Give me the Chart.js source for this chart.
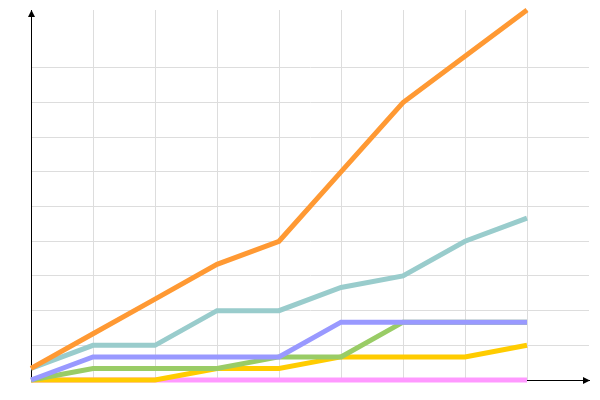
<!DOCTYPE html>
<html>
<head>
<meta charset="utf-8">
<script src="https://cdn.jsdelivr.net/npm/chart.js@4/dist/chart.umd.min.js"></script>
<style>
  html, body { margin: 0; padding: 0; background: #fff; }
  #wrap { width: 600px; height: 400px; }
</style>
</head>
<body>
<div id="wrap"><canvas id="c" width="600" height="400"></canvas></div>
<script>
const categories = [0, 1, 2, 3, 4, 5, 6, 7, 8];
const orangeValues = [1, 4, 7, 10, 12, 18, 24, 28, 32];
const tealValues   = [1, 3, 3, 6, 6, 8, 9, 12, 14];
const purpleValues = [0, 2, 2, 2, 2, 5, 5, 5, 5];
const greenValues  = [0, 1, 1, 1, 2, 2, 5, 5, 5];
const yellowValues = [0, 0, 0, 1, 1, 2, 2, 2, 3];
const pinkValues   = [0, 0, 0, 0, 0, 0, 0, 0, 0];

const xMax = 9, yMax = 32, yStep = 3, yGridLast = 27;

function mk(values, color) {
  return {
    data: categories.map((c, i) => ({ x: c, y: values[i] })),
    borderColor: color,
    backgroundColor: color,
    borderWidth: 5,
    pointRadius: 0,
    pointHoverRadius: 0,
    tension: 0,
    fill: false,
    clip: false
  };
}

const arrows = {
  id: 'arrows',
  afterDraw(chart) {
    const { ctx, chartArea: a } = chart;
    ctx.save();
    ctx.fillStyle = '#000';
    ctx.strokeStyle = '#000';
    ctx.lineWidth = 1;
    // y axis arrow
    ctx.beginPath();
    ctx.moveTo(a.left + 0.5, a.top);
    ctx.lineTo(a.left - 3, a.top + 7);
    ctx.lineTo(a.left + 4, a.top + 7);
    ctx.closePath();
    ctx.fill();
    // x axis arrow
    ctx.beginPath();
    ctx.moveTo(a.right + 1, a.bottom + 0.5);
    ctx.lineTo(a.right - 6, a.bottom - 3);
    ctx.lineTo(a.right - 6, a.bottom + 4);
    ctx.closePath();
    ctx.fill();
    ctx.restore();
  }
};

new Chart(document.getElementById('c'), {
  type: 'line',
  data: {
    datasets: [
      mk(orangeValues, '#FF9933'),
      mk(tealValues, '#99CCCC'),
      mk(purpleValues, '#9999FF'),
      mk(greenValues, '#99CC66'),
      mk(yellowValues, '#FFCC00'),
      mk(pinkValues, '#FF99FF')
    ]
  },
  options: {
    responsive: false,
    animation: false,
    layout: { padding: { left: 31, right: 11, top: 10, bottom: 20 } },
    plugins: { legend: { display: false }, tooltip: { enabled: false } },
    scales: {
      x: {
        type: 'linear',
        min: 0,
        max: xMax,
        ticks: { display: false, stepSize: 1 },
        grid: {
          drawTicks: false,
          color: (c) => (c.tick && c.tick.value >= xMax) ? 'rgba(0,0,0,0)' : '#dddddd',
          lineWidth: 1
        },
        border: { display: true, color: '#000', width: 1 }
      },
      y: {
        type: 'linear',
        min: 0,
        max: yMax,
        ticks: { display: false, stepSize: yStep },
        grid: {
          drawTicks: false,
          color: (c) => (c.tick && c.tick.value > yGridLast) ? 'rgba(0,0,0,0)' : '#dddddd',
          lineWidth: 1
        },
        border: { display: true, color: '#000', width: 1 }
      }
    }
  },
  plugins: [arrows]
});
</script>
</body>
</html>
